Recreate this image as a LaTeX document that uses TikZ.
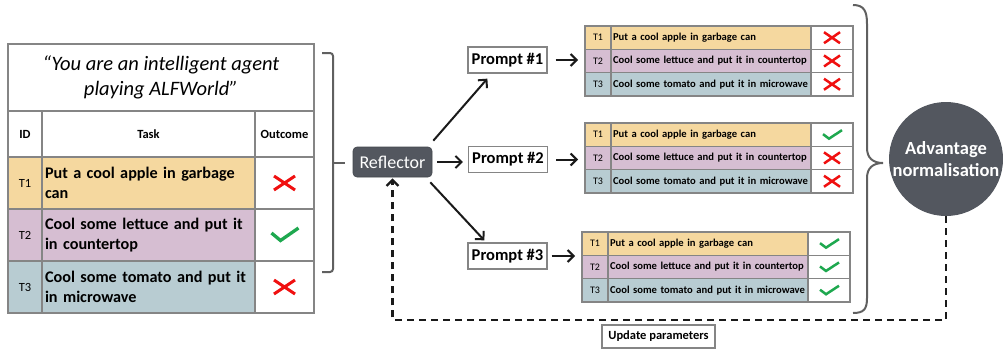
\documentclass[tikz,border=0pt]{standalone}
\usepackage{fontspec}
\setmainfont{Carlito}
\usetikzlibrary{arrows.meta}
\definecolor{cA}{HTML}{F5D89F}
\definecolor{cB}{HTML}{D6BED2}
\definecolor{cC}{HTML}{B8CCD2}
\definecolor{dark}{HTML}{53575F}
\definecolor{bord}{HTML}{858585}
\definecolor{xred}{HTML}{F01010}
\definecolor{vgreen}{HTML}{1EA84F}
\definecolor{ink}{HTML}{1A1A1A}
\definecolor{brk}{HTML}{606060}
\tikzset{
  cell/.style={draw=bord, line width=1.4pt, outer sep=0pt, inner sep=2pt},
  idc/.style={cell, minimum width=26pt, minimum height=23.3pt, font=\fontsize{10}{12}\selectfont},
  taskc/.style={cell, minimum width=200pt, text width=196pt, minimum height=23.3pt, align=left, inner sep=2pt, font=\fontsize{10.6}{12}\selectfont\bfseries},
  outc/.style={cell, minimum width=42pt, minimum height=23.3pt, fill=white},
  bid/.style={cell, minimum width=34pt, minimum height=52pt, font=\fontsize{12.5}{14}\selectfont},
  btask/.style={cell, minimum width=213pt, text width=207pt, minimum height=52pt, align=left, inner sep=3pt, font=\fontsize{16.2}{20}\selectfont\bfseries},
  bout/.style={cell, minimum width=59pt, minimum height=52pt, fill=white},
  prm/.style={draw=bord, line width=1.3pt, fill=white, minimum width=79pt, minimum height=26pt, inner sep=1pt, font=\fontsize{16.5}{18}\selectfont\bfseries},
  arr/.style={draw=ink, line width=2pt, -{Straight Barb[length=6pt,width=12pt]}},
  xmk/.style={draw=xred, line cap=butt},
  vmk/.style={draw=vgreen, line cap=butt, line join=miter},
  brace/.style={draw=brk, line width=2pt},
}
\newcommand\bigx[1]{\draw[xmk, line width=3pt] ([shift={(-10.5,-7)}]#1.center) -- ([shift={(10.5,7)}]#1.center) ([shift={(-10.5,7)}]#1.center) -- ([shift={(10.5,-7)}]#1.center);}
\newcommand\bigv[1]{\draw[vmk, line width=3.3pt] ([shift={(-13,-2)}]#1.center) -- ([shift={(-4,5.5)}]#1.center) -- ([shift={(14,-7)}]#1.center);}
\newcommand\smx[1]{\draw[xmk, line width=2.5pt] ([shift={(-8,-5.5)}]#1.center) -- ([shift={(8,5.5)}]#1.center) ([shift={(-8,5.5)}]#1.center) -- ([shift={(8,-5.5)}]#1.center);}
\newcommand\smv[1]{\draw[vmk, line width=2.5pt] ([shift={(-9,-0.5)}]#1.center) -- ([shift={(-3,4)}]#1.center) -- ([shift={(10,-4.5)}]#1.center);}
\newcommand\rtable[6]{%
  \node[idc, fill=cA, anchor=north west] (#11id) at (#2,#3) {T1};
  \node[taskc, fill=cA, anchor=north west] (#11t) at (#11id.north east) {\mbox{Put a cool apple in garbage can}};
  \node[outc, anchor=north west] (#11o) at (#11t.north east) {};
  \node[idc, fill=cB, anchor=north west] (#12id) at (#11id.south west) {T2};
  \node[taskc, fill=cB, anchor=north west] (#12t) at (#12id.north east) {\mbox{Cool some lettuce and put it in countertop}};
  \node[outc, anchor=north west] (#12o) at (#12t.north east) {};
  \node[idc, fill=cC, anchor=north west] (#13id) at (#12id.south west) {T3};
  \node[taskc, fill=cC, anchor=north west] (#13t) at (#13id.north east) {\mbox{Cool some tomato and put it in microwave}};
  \node[outc, anchor=north west] (#13o) at (#13t.north east) {};
  #4{#11o}#5{#12o}#6{#13o}%
}
\begin{document}
\begin{tikzpicture}[x=1pt,y=-1pt]
\useasboundingbox (0,0) rectangle (1003,349);
% left table
\node[cell, minimum width=306pt, minimum height=67pt, anchor=north west, align=center, font=\fontsize{20.5}{25}\selectfont\itshape] (quote) at (8,44) {“You are an intelligent agent\\playing ALFWorld”};
\node[cell, minimum width=34pt, minimum height=46pt, anchor=north west, font=\fontsize{12.5}{14}\selectfont\bfseries] (hid) at (quote.south west) {ID};
\node[cell, minimum width=213pt, minimum height=46pt, anchor=north west, font=\fontsize{12.5}{14}\selectfont\bfseries] (htask) at (hid.north east) {Task};
\node[cell, minimum width=59pt, minimum height=46pt, anchor=north west, font=\fontsize{12.5}{14}\selectfont\bfseries] (hout) at (htask.north east) {Outcome};
\node[bid, fill=cA, anchor=north west] (L1id) at (hid.south west) {T1};
\node[btask, fill=cA, anchor=north west] (L1t) at (L1id.north east) {Put a cool apple in garbage\\can};
\node[bout, anchor=north west] (L1o) at (L1t.north east) {};
\node[bid, fill=cB, anchor=north west] (L2id) at (L1id.south west) {T2};
\node[btask, fill=cB, anchor=north west] (L2t) at (L2id.north east) {Cool some lettuce and put it\\in countertop};
\node[bout, anchor=north west] (L2o) at (L2t.north east) {};
\node[bid, fill=cC, anchor=north west] (L3id) at (L2id.south west) {T3};
\node[btask, fill=cC, anchor=north west] (L3t) at (L3id.north east) {Cool some tomato and put it\\in microwave};
\node[bout, anchor=north west] (L3o) at (L3t.north east) {};
\bigx{L1o}\bigv{L2o}\bigx{L3o}
% left bracket
\draw[brace, rounded corners=3pt] (322,53) -- (333,53) -- (333,272) -- (322,272);
\draw[brace] (333,163) -- (345,163);
% reflector
\node[fill=dark, draw=dark!80!black, line width=0.6pt, rounded corners=4pt, text=white, minimum width=79pt, minimum height=30pt, inner sep=1pt, font=\fontsize{18}{20}\selectfont] (refl) at (392.5,162) {Reflector};
% prompts
\node[prm] (p1) at (507.5,60) {Prompt \#1};
\node[prm] (p2) at (508,159.5) {Prompt \#2};
\node[prm] (p3) at (507.5,256) {Prompt \#3};
\draw[arr] ([shift={(1,-6)}]refl.north east) -- ([shift={(20,5)}]p1.south west);
\draw[arr] ([xshift=5pt]refl.east) -- ([xshift=-5pt]refl.east -| p2.west);
\draw[arr] ([shift={(-2,5)}]refl.south east) -- ([shift={(17,-2)}]p3.north west);
% right tables
\rtable{A}{585}{26}{\smx}{\smx}{\smx}
\rtable{B}{585}{123}{\smv}{\smx}{\smx}
\rtable{C}{582}{232}{\smv}{\smv}{\smv}
\draw[arr] ([xshift=8pt]p1.east) -- ([xshift=-7pt]p1.east -| A1id.west);
\draw[arr] ([xshift=8pt]p2.east) -- ([xshift=-7pt]p2.east -| B1id.west);
\draw[arr] ([xshift=4pt]p3.east) -- ([xshift=-7pt]p3.east -| C1id.west);
% right brace
\draw[brace] (853,5) .. controls (864,5) and (867,11) .. (867,24) -- (867,148) .. controls (867,158) and (873,163) .. (883,163) .. controls (873,163) and (867,168) .. (867,178) -- (867,298) .. controls (867,309) and (864,313) .. (853,313);
% advantage normalisation
\node[circle, fill=dark, minimum size=114pt, inner sep=0pt, text=white, align=center, font=\fontsize{18.5}{22}\selectfont\bfseries] (adv) at (946,159) {Advantage\\normalisation};
% feedback
\coordinate (dc) at (946,320);
\draw[arr, line width=2.3pt, dash pattern=on 7pt off 5pt] (adv.south) |- (refl.south |- dc) -- ([yshift=-1pt]refl.south);
\node[draw=bord, line width=1.3pt, fill=white, minimum width=113pt, minimum height=23pt, inner sep=1pt, font=\fontsize{12.5}{14}\selectfont\bfseries] (upd) at (658.5,336.5) {Update parameters};
\end{tikzpicture}
\end{document}
